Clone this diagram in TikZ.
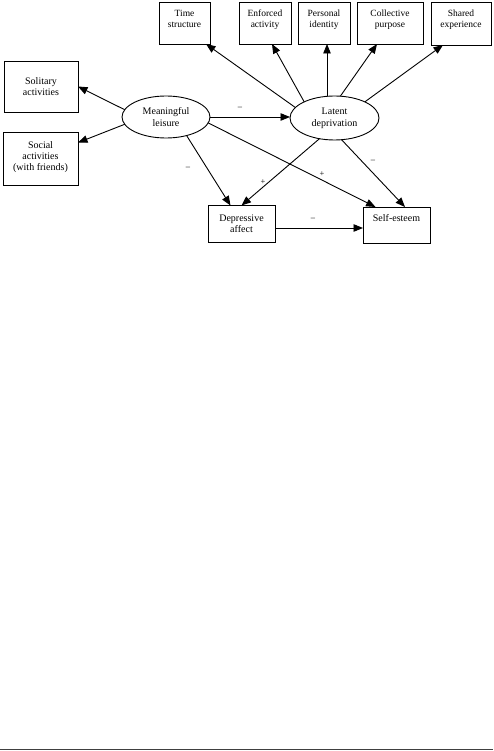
\documentclass[tikz,border=0pt]{standalone}
\usepackage{fontspec}
\setmainfont{Liberation Serif}
\usetikzlibrary{arrows.meta,shapes.geometric,calc}
\begin{document}
\begin{tikzpicture}[x=1pt,y=-1pt,
  every node/.style={inner sep=0pt, outer sep=0pt},
  box/.style={draw, line width=0.9pt, rectangle, align=center, font=\fontsize{10}{11}\selectfont},
  topbox/.style={box, minimum height=42pt, font=\fontsize{9.5}{11}\selectfont},
  oval/.style={draw, line width=0.9pt, ellipse, align=center, font=\fontsize{10}{12}\selectfont},
  arr/.style={draw, line width=0.9pt, -{Triangle[length=9.5pt,width=7.5pt]}},
  sign/.style={font=\fontsize{8.5}{8.5}\selectfont}
]
\useasboundingbox (0,0) rectangle (493,751);

% top row
\node[topbox, minimum width=51pt] (ts) at (184.5,23) {Time\\structure\\[-2pt]\mbox{}};
\node[topbox, minimum width=52pt] (ea) at (265,23) {Enforced\\activity\\[-2pt]\mbox{}};
\node[topbox, minimum width=52pt] (pi) at (324,23) {Personal\\identity\\[-2pt]\mbox{}};
\node[topbox, minimum width=66pt] (cp) at (390,23) {Collective\\purpose\\[-2pt]\mbox{}};
\node[topbox, minimum width=60pt, minimum height=43pt] (sx) at (461,23.5) {Shared\\experience\\[-2pt]\mbox{}};

% left boxes
\node[box, minimum width=74pt, minimum height=51pt] (sol) at (41,86.5) {Solitary\\activities};
\node[box, minimum width=75pt, minimum height=53pt] (soc) at (40.5,158.5) {Social\\activities\\(with friends)\\[-6pt]\mbox{}};

% latent variables
\node[oval, minimum width=88pt, minimum height=42pt] (ml) at (166,117) {Meaningful\\leisure};
\node[oval, minimum width=89pt, minimum height=44pt] (ld) at (334.5,118) {Latent\\deprivation};

% outcomes
\node[box, minimum width=67pt, minimum height=37pt] (da) at (241.5,224) {Depressive\\affect};
\node[box, minimum width=67pt, minimum height=36pt] (se) at (396.5,225) {Self-esteem\\[3pt]\mbox{}};

% connectors
\draw[arr] (ml.170) -- (sol.east);
\draw[arr] (ml.190) -- ($(soc.north east)!0.2!(soc.south east)$);
\draw[arr] (ml.east) -- (ml.east -| ld.west);
\draw[arr] (ld.165) -- ($(ts.south east)+(-4,0)$);
\draw[arr] (ld.152) -- ($(ea.south)+(7,0)$);
\coordinate (piin) at ($(pi.south)+(3,0)$);
\draw[arr] (piin |- ld.north) -- (piin);
\draw[arr] (ld.75) -- ($(cp.south)+(-13,0)$);
\draw[arr] (ld.28) -- ($(sx.south)+(-18,0)$);
\draw[arr] (ml.-42) -- ($(da.north)+(-11,0)$);
\draw[arr] (ld.-126) -- (da.north);
\draw[arr] (ml.-8) -- ($(se.north)+(-21,0)$);
\draw[arr] (ld.-72) -- ($(se.north)+(8.5,0)$);
\draw[arr] ($(da.east)+(0,4)$) -- ($(se.west)+(0,3)$);

% signs
\node[sign] (s1) at (240,108) {--};
\node[sign] (s2) at (188,168) {--};
\node[sign] (s3) at (263,182) {+};
\node[sign] (s4) at (322,174) {+};
\node[sign] (s5) at (373,161) {--};
\node[sign] (s6) at (313,219) {--};

% page edge line
\draw[line width=1pt, black!75] (0,749.5) -- (493,749.5);
\end{tikzpicture}
\end{document}
